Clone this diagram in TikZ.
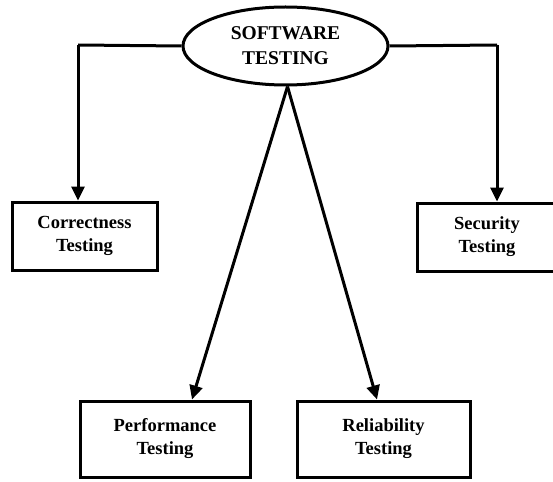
\documentclass[tikz,border=0pt]{standalone}
\usepackage{fontspec}
\setmainfont{Liberation Serif}
\usetikzlibrary{shapes.geometric,arrows.meta}
\begin{document}
\begin{tikzpicture}[x=1pt,y=-1pt,
    rootshape/.style={draw,ellipse,line width=3pt,inner sep=0pt,
      minimum width=205pt,minimum height=78pt,align=center,
      font=\bfseries\fontsize{19.5}{25}\selectfont},
    testbox/.style={draw,line width=3pt,inner sep=0pt,align=center,
      font=\bfseries\fontsize{18.5}{23}\selectfont},
    link/.style={line width=3pt},
    linkarrow/.style={line width=3pt,-{Triangle[length=14pt,width=13pt]}}]
  \useasboundingbox (0,0) rectangle (553,481);

  % Marking root SOFTWARE TESTING by ellipse
  \node [rootshape] (root) at (285.5,46) {SOFTWARE\\TESTING};

  % Marking box Correctness Testing
  \node [testbox,minimum width=145pt,minimum height=68pt] (correct) at (84.5,236) {Correctness\\Testing};

  % Marking box Security Testing
  \node [testbox,minimum width=140pt,minimum height=68pt] (secure) at (487,237) {Security\\Testing};

  % Marking box Performance Testing
  \node [testbox,minimum width=170pt,minimum height=76pt] (perform) at (165,439) {Performance\\Testing};

  % Marking box Reliability Testing
  \node [testbox,minimum width=173pt,minimum height=76pt] (reliable) at (383.5,439) {Reliability\\Testing};

  % Drawing corner points of side links
  \coordinate (cturn) at (78,45);
  \coordinate (sturn) at (497,45);

  % Drawing link root -- Correctness
  \draw [link] (root.west) -- (cturn);
  \draw [linkarrow] (cturn) -- (cturn |- correct.north);

  % Drawing link root -- Security
  \draw [link] (root.east) -- (sturn);
  \draw [linkarrow] (sturn) -- (sturn |- secure.north);

  % Drawing links root -- Performance, Reliability
  \draw [linkarrow] ([xshift=2pt]root.south) -- ([xshift=27pt]perform.north);
  \draw [linkarrow] ([xshift=2pt]root.south) -- ([xshift=-6.5pt]reliable.north);
\end{tikzpicture}
\end{document}
